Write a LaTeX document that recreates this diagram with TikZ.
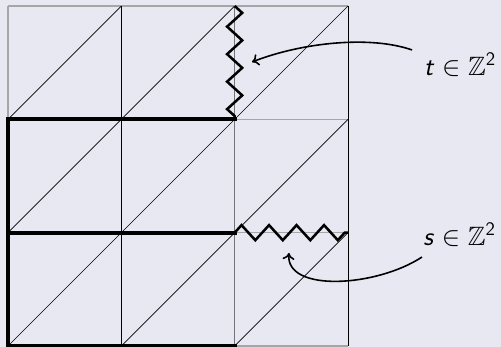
\documentclass[tikz,border=0pt]{standalone}
\usepackage{amssymb}
\usetikzlibrary{decorations.pathmorphing,arrows.meta}
\definecolor{bgc}{RGB}{232,232,242}
\definecolor{lgray}{RGB}{165,165,170}
\definecolor{dgray}{RGB}{115,115,120}
\tikzset{
  thinline/.style={line width=0.6pt, black},
  diag/.style={line width=0.45pt, black},
  grayline/.style={line width=0.8pt, lgray},
  dgrayline/.style={line width=0.9pt, dgray},
  boldline/.style={line width=2.9pt, black, line cap=rect},
  zz/.style={line width=1.9pt, black, line join=miter, decorate,
    decoration={zigzag, segment length=0.728cm, amplitude=0.2cm}},
  arr/.style={line width=1.2pt, -{To[length=5pt,width=9pt]}},
  lbl/.style={inner sep=0pt, font=\fontsize{20}{24}\selectfont}
}
\begin{document}
\begin{tikzpicture}[x=3cm,y=3cm]
\fill[bgc] (-0.0706,-0.0088) rectangle (4.350,3.053);
\useasboundingbox (-0.0706,-0.0088) rectangle (4.350,3.053);
% grid corner coordinates
\foreach \i in {0,1,2,3}{\foreach \j in {0,1,2,3}{\coordinate (p\i\j) at (\i,\j);}}
% gray horizontals
\draw[grayline] (p03) -- (p33);
\draw[grayline] (p22) -- (p32);
\draw[grayline] (p21) -- (p31);
\draw[grayline] (p20) -- (p30);
\draw[grayline] (p02) -- (p03);
% verticals
\draw[thinline] (p10) -- (p13);
\draw[thinline] (p30) -- (p33);
\draw[dgrayline] (p20) -- (p23);
% diagonals
\foreach \i in {0,1,2}{\foreach \j in {0,1,2}{
  \pgfmathtruncatemacro{\a}{\i+1}\pgfmathtruncatemacro{\b}{\j+1}
  \draw[diag] (p\i\j) -- (p\a\b);}}
% bold boundary
\draw[boldline] (p20) -- (p00) -- (p02) -- (p22);
\draw[boldline] (p01) -- (p21);
% zigzags
\draw[zz] (p23) -- (p22);
\draw[zz] (p21) -- (p31);
% labels
\node[lbl, anchor=base west] (t) at (3.67,2.391) {$\textsf{\textit{t}} \in \mathbb{Z}^{\mathsf{2}}$};
\node[lbl, anchor=base west] (s) at (3.662,0.891) {$\textsf{\textit{s}} \in \mathbb{Z}^{\mathsf{2}}$};
\coordinate (ta) at (3.565,2.612);
\coordinate (tb) at (2.153,2.506);
\coordinate (sa) at (3.653,0.785);
\coordinate (sb) at (2.479,0.821);
\draw[arr] (ta) .. controls (3.2,2.74) and (2.6,2.68) .. (tb);
\draw[arr] (sa) .. controls (3.25,0.52) and (2.45,0.47) .. (sb);
\end{tikzpicture}
\end{document}
